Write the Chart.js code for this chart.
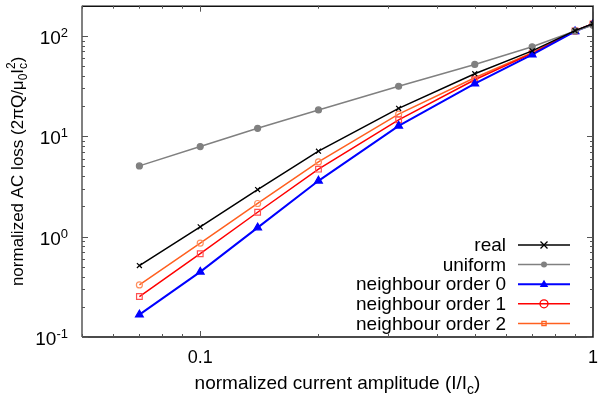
<!DOCTYPE html>
<html>
<head>
<meta charset="utf-8">
<script src="https://cdn.jsdelivr.net/npm/chart.js@4.4.1/dist/chart.umd.min.js"></script>
<style>
  body { margin: 0; background: #fff; }
  #lossChart { display: block; }
</style>
</head>
<body>
<canvas id="lossChart" width="599" height="397"></canvas>
<script>
// normalized current amplitude I/Ic
const amplitude = [0.07, 0.1, 0.14, 0.2, 0.32, 0.5, 0.7, 0.9, 1.0];

// normalized AC loss per model
const realLoss = [0.515, 1.25, 2.94, 7.1, 19.0, 42, 71, 113, 132];
const uniformLoss = [5.07, 7.9, 12.0, 18.3, 31.5, 52, 78, 112, 128];
const order0Loss = [0.167, 0.446, 1.23, 3.6, 12.7, 33.4, 65, 111, 131];
const order1Loss = [0.253, 0.676, 1.75, 4.7, 14.6, 36.6, 67, 112, 132];
const order2Loss = [0.33, 0.86, 2.14, 5.55, 16.6, 38.3, 68, 112, 132];

const seriesNames = ['real', 'uniform', 'neighbour order 0', 'neighbour order 1', 'neighbour order 2'];

const xTickLabels = ['0.1', '1'];
const yTickValues = [0.1, 1, 10, 100];
const yTickExponents = ['-1', '0', '1', '2'];

const FONT = '"Liberation Sans", Arial, sans-serif';

function toPoints(vals) {
  return amplitude.map((a, i) => ({ x: a, y: vals[i] }));
}

// how each series looks; legendStyle is the marker shown in the key
const looks = [
  { color: '#000000', width: 1.5, point: 'crossRot', r: 3.5, pColor: '#000000', fill: false, legendStyle: 'crossRot', legendColor: '#000000' },
  { color: '#808080', width: 1.5, point: 'circle', r: 3, pColor: '#808080', fill: true, legendStyle: 'circle', legendColor: '#808080' },
  { color: '#0000ff', width: 2, point: 'triangle', r: 4.5, pColor: '#0000ff', fill: true, legendStyle: 'triangle', legendColor: '#0000ff' },
  { color: '#ff0000', width: 1.5, point: 'rect', r: 4, pColor: '#ff5050', fill: false, legendStyle: 'circle', legendColor: '#ff0000' },
  { color: '#ff6020', width: 1.5, point: 'circle', r: 3, pColor: '#ff9060', fill: false, legendStyle: 'rect', legendColor: '#ff6020' }
];

const allSeries = [realLoss, uniformLoss, order0Loss, order1Loss, order2Loss];

const datasets = allSeries.map((vals, i) => ({
  label: seriesNames[i],
  data: toPoints(vals),
  borderColor: looks[i].color,
  borderWidth: looks[i].width,
  pointStyle: looks[i].point,
  pointRadius: looks[i].r,
  pointBorderColor: looks[i].pColor,
  pointBackgroundColor: looks[i].fill ? looks[i].pColor : 'rgba(0,0,0,0)',
  pointBorderWidth: 1.2,
  tension: 0,
  fill: false
}));

function drawMarker(ctx, style, x, y, r, color, filled) {
  ctx.save();
  ctx.strokeStyle = color;
  ctx.fillStyle = color;
  ctx.lineWidth = 1.3;
  ctx.beginPath();
  if (style === 'crossRot') {
    ctx.moveTo(x - r, y - r); ctx.lineTo(x + r, y + r);
    ctx.moveTo(x + r, y - r); ctx.lineTo(x - r, y + r);
    ctx.stroke();
  } else if (style === 'circle') {
    ctx.arc(x, y, r, 0, Math.PI * 2);
    if (filled) ctx.fill(); else ctx.stroke();
  } else if (style === 'triangle') {
    ctx.moveTo(x, y - r);
    ctx.lineTo(x + r * 0.95, y + r * 0.6);
    ctx.lineTo(x - r * 0.95, y + r * 0.6);
    ctx.closePath();
    if (filled) ctx.fill(); else ctx.stroke();
  } else if (style === 'rect') {
    ctx.rect(x - r * 0.7, y - r * 0.7, r * 1.4, r * 1.4);
    ctx.stroke();
  }
  ctx.restore();
}

// text with sub/superscripts: parts = [{t, s:'n'|'sub'|'sup', keep:true(no advance)}]
function richWidth(ctx, parts, size) {
  let w = 0;
  parts.forEach(p => {
    ctx.font = (p.s === 'n' ? size : Math.round(size * 0.72)) + 'px ' + FONT;
    if (!p.keep) w += ctx.measureText(p.t).width;
  });
  return w;
}
function drawRich(ctx, parts, cx, baseY, size) {
  let x = cx - richWidth(ctx, parts, size) / 2;
  parts.forEach(p => {
    const small = Math.round(size * 0.72);
    ctx.font = (p.s === 'n' ? size : small) + 'px ' + FONT;
    const dy = p.s === 'sub' ? size * 0.25 : p.s === 'sup' ? -size * 0.45 : 0;
    ctx.fillText(p.t, x, baseY + dy);
    if (!p.keep) x += ctx.measureText(p.t).width;
  });
}

const decorations = {
  id: 'decorations',
  afterDraw(chart) {
    const { ctx, chartArea: a, scales: { x, y } } = chart;
    ctx.save();

    // frame
    ctx.lineWidth = 1.5;
    ctx.strokeStyle = '#111';
    ctx.beginPath();
    ctx.moveTo(a.left, a.top + 0.5); ctx.lineTo(a.right, a.top + 0.5);
    ctx.lineTo(a.right, a.bottom); ctx.lineTo(a.left, a.bottom);
    ctx.stroke();
    ctx.strokeStyle = '#808080';
    ctx.lineWidth = 2;
    ctx.beginPath();
    ctx.moveTo(a.left, a.top); ctx.lineTo(a.left, a.bottom);
    ctx.stroke();

    // inward ticks on all four sides
    ctx.lineWidth = 1;
    ctx.strokeStyle = '#555';
    const xTicks = [];
    for (let d = 0.01; d < 1.5; d *= 10) {
      for (let m = 1; m <= 9; m++) {
        const v = +(m * d).toPrecision(3);
        if (v >= x.min && v <= x.max) xTicks.push({ v, major: m === 1 });
      }
    }
    xTicks.forEach(t => {
      const px = Math.round(x.getPixelForValue(t.v)) + 0.5;
      const len = t.major ? 6 : 3;
      ctx.beginPath();
      ctx.moveTo(px, a.bottom); ctx.lineTo(px, a.bottom - len);
      ctx.moveTo(px, a.top); ctx.lineTo(px, a.top + len);
      ctx.stroke();
    });
    const yTicks = [];
    for (let d = 0.1; d < 1000; d *= 10) {
      for (let m = 1; m <= 9; m++) {
        const v = +(m * d).toPrecision(3);
        if (v >= y.min && v < y.max) yTicks.push({ v, major: m === 1 });
      }
    }
    yTicks.forEach(t => {
      const py = Math.round(y.getPixelForValue(t.v)) + 0.5;
      const len = t.major ? 6 : 3;
      ctx.beginPath();
      ctx.moveTo(a.left, py); ctx.lineTo(a.left + len, py);
      ctx.moveTo(a.right, py); ctx.lineTo(a.right - len, py);
      ctx.stroke();
    });

    // x tick labels
    ctx.fillStyle = '#000';
    ctx.font = '18px ' + FONT;
    ctx.textAlign = 'center';
    ctx.textBaseline = 'alphabetic';
    [0.1, 1].forEach((v, i) => {
      ctx.fillText(xTickLabels[i], x.getPixelForValue(v), a.bottom + 26);
    });

    // y tick labels 10^n
    ctx.textAlign = 'left';
    yTickValues.forEach((v, i) => {
      const py = y.getPixelForValue(v);
      ctx.font = '13px ' + FONT;
      const ew = ctx.measureText(yTickExponents[i]).width;
      ctx.font = '19px ' + FONT;
      const bw = ctx.measureText('10').width;
      const right = a.left - 14;
      ctx.fillText('10', right - ew - bw, py + 8);
      ctx.font = '13px ' + FONT;
      ctx.fillText(yTickExponents[i], right - ew, py + 1);
    });

    // axis titles
    const xTitle = [
      { t: 'normalized current amplitude (I/I', s: 'n' },
      { t: 'c', s: 'sub' },
      { t: ')', s: 'n' }
    ];
    drawRich(ctx, xTitle, (a.left + a.right) / 2, a.bottom + 52, 19);

    const yTitle = [
      { t: 'normalized AC loss (2\u03C0Q/\u03BC', s: 'n' },
      { t: '0', s: 'sub' },
      { t: 'I', s: 'n' },
      { t: 'c', s: 'sub', keep: true },
      { t: '2', s: 'sup' },
      { t: ')', s: 'n' }
    ];
    ctx.save();
    ctx.translate(23, (a.top + a.bottom) / 2);
    ctx.rotate(-Math.PI / 2);
    drawRich(ctx, yTitle, 0, 0, 17);
    ctx.restore();

    // key, bottom right inside the plot
    ctx.font = '19px ' + FONT;
    ctx.textAlign = 'right';
    ctx.textBaseline = 'middle';
    chart.data.datasets.forEach((ds, i) => {
      const ly = a.bottom - 92 + i * 19.6;
      const tx = a.right - 87;
      ctx.fillStyle = '#000';
      ctx.fillText(ds.label, tx, ly + 1);
      ctx.strokeStyle = ds.borderColor;
      ctx.lineWidth = ds.borderWidth;
      ctx.beginPath();
      ctx.moveTo(tx + 12, ly); ctx.lineTo(tx + 64, ly);
      ctx.stroke();
      const lk = looks[i];
      drawMarker(ctx, lk.legendStyle, tx + 38, ly, lk.r, lk.legendColor, lk.fill);
    });

    ctx.restore();
  }
};

new Chart(document.querySelector('#lossChart'), {
  type: 'line',
  data: { datasets },
  options: {
    responsive: false,
    animation: false,
    layout: { padding: { left: 82, right: 6, top: 1, bottom: 60 } },
    scales: {
      x: { type: 'logarithmic', min: 0.05, max: 1, display: false },
      y: { type: 'logarithmic', min: 0.1, max: 200, display: false }
    },
    plugins: {
      legend: { display: false },
      tooltip: { enabled: false }
    }
  },
  plugins: [decorations]
});
</script>
</body>
</html>
